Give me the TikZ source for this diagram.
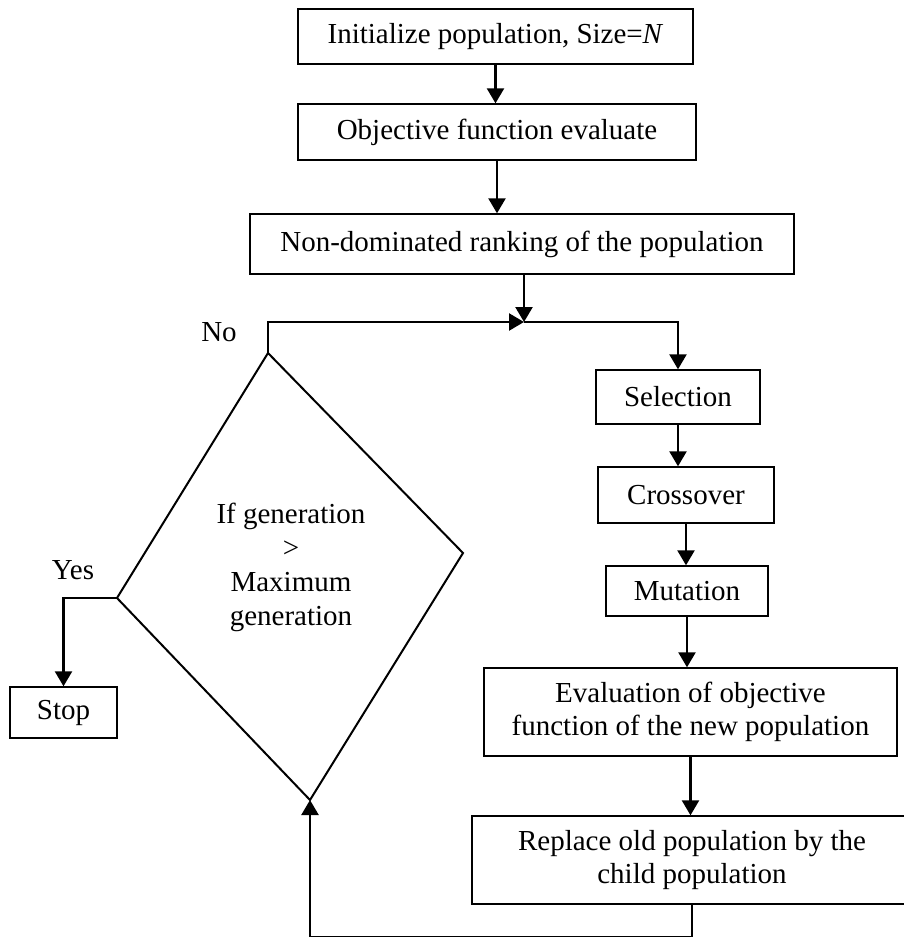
\documentclass[tikz,border=0pt]{standalone}
\usepackage{fontspec}
\setmainfont{Liberation Serif}
\usetikzlibrary{arrows.meta}
\tikzset{
  >={Triangle[length=7.5pt,width=8.5pt]},
  stepbox/.style={draw,line width=0.7pt,inner sep=0pt,align=center},
  link/.style={->,line width=1.2pt},
  tag/.style={inner sep=0pt},
}
\begin{document}
\begin{tikzpicture}[x=0.5pt,y=-0.5pt]\fontsize{14.5}{16.5}\selectfont
\useasboundingbox (0,0) rectangle (904,937);
% main column
\node[stepbox,minimum width=197.5pt,minimum height=27.5pt] (init) at (495.5,36.5) {Initialize population, Size=\textit{N}};
\node[stepbox,minimum width=199pt,minimum height=28pt] (obj) at (497,132) {Objective function evaluate};
\node[stepbox,minimum width=272pt,minimum height=30pt] (rank) at (522,244) {Non-dominated ranking of the population};
% right column
\node[stepbox,minimum width=82pt,minimum height=27pt] (sel) at (678,397) {Selection};
\node[stepbox,minimum width=88pt,minimum height=28pt] (cross) at (686,495) {Crossover};
\node[stepbox,minimum width=81pt,minimum height=25pt] (mut) at (687,591) {Mutation};
\node[stepbox,minimum width=206.5pt,minimum height=44pt] (eval) at (690.5,712) {Evaluation of objective\\function of the new population};
\node[stepbox,minimum width=220pt,minimum height=44pt] (repl) at (692,860) {Replace old population by the\\child population};
\node[stepbox,minimum width=53.5pt,minimum height=25.5pt] (stop) at (63.5,712.5) {Stop};
% decision
\coordinate (dtop) at (268,353);
\coordinate (dright) at (463,553);
\coordinate (dbot) at (310,800);
\coordinate (dleft) at (117,598);
\draw[line width=1pt] (dtop) -- (dright) -- (dbot) -- (dleft) -- cycle;
\node[tag,align=center,font=\fontsize{14.5}{17}\selectfont] (cond) at (291,567) {If generation\\>\\Maximum\\generation};
\node[tag] (no) at (219,332) {No};
\node[tag] (yes) at (73,570) {Yes};
% connectors
\foreach \a/\b in {init/obj,obj/rank,sel/cross,cross/mut,mut/eval,eval/repl}
  \draw[link] (\a.south) -- (\a.south |- \b.north);
\coordinate (join) at (524,322);
\draw[link] (join |- rank.south) -- (join);
\draw[link] (dtop) |- (join);
\draw[link] (join) -| (sel.north);
\draw[link] (dleft) -| (stop.north);
\draw[link] (repl.south) -- ++(0,32) -| (dbot);
\end{tikzpicture}
\end{document}
